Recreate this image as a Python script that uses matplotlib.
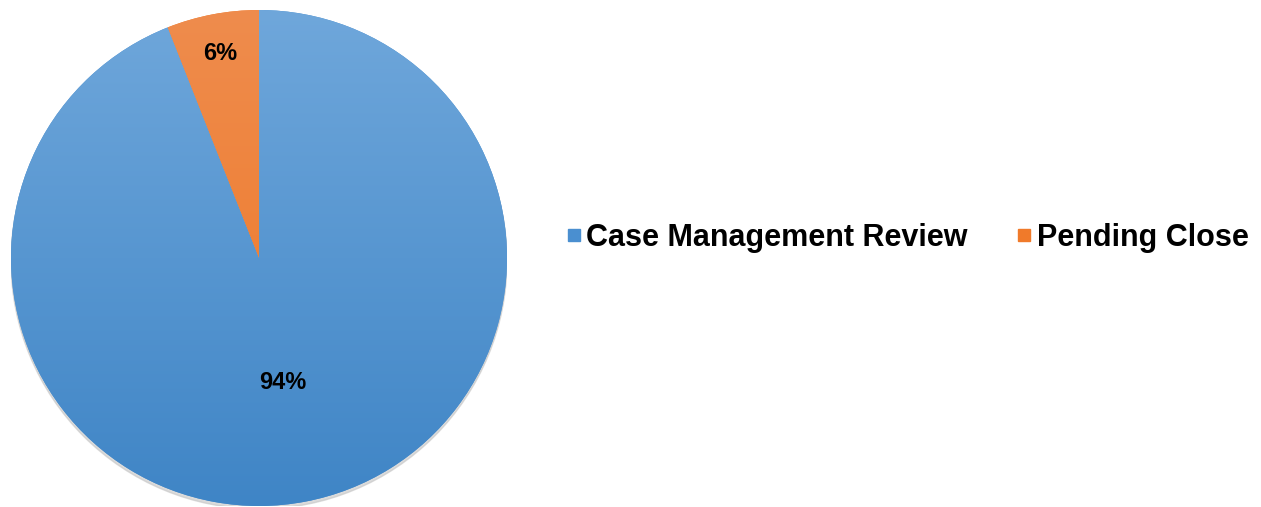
import matplotlib.pyplot as plt
import numpy as np
from matplotlib.colors import LinearSegmentedColormap
from matplotlib.lines import Line2D

plt.rcParams['font.family'] = ['Liberation Sans', 'DejaVu Sans']

labels = ['Case Management Review', 'Pending Close']
values = [94, 6]
pct_text = ['94%', '6%']
# gradient top -> bottom for each slice
grad_colors = [('#6fa7db', '#3f85c6'), ('#ef8c4d', '#ee7623')]
legend_colors = ['#4a8fd0', '#f07a2a']
label_r = [0.51, 0.84]

fig = plt.figure(figsize=(12.61, 5.07), dpi=100)
ax = fig.add_axes([11 / 1261, 1 / 507, 496 / 1261, 496 / 507])

wedges, _ = ax.pie(values, startangle=90, counterclock=False, radius=1,
                   colors=legend_colors, wedgeprops=dict(linewidth=0))
ax.set_xlim(-1, 1)
ax.set_ylim(-1, 1)
ax.set_aspect('equal')

# faint shadow under the pie
ax.add_patch(plt.Circle((0.0, -0.012), 1.0, color='#c4c4c4', zorder=0, alpha=0.6))

grad = np.linspace(0, 1, 256).reshape(-1, 1)
for w, (c1, c2) in zip(wedges, grad_colors):
    cmap = LinearSegmentedColormap.from_list('g', [c1, c2])
    im = ax.imshow(grad, cmap=cmap, extent=(-1, 1, -1, 1), origin='upper',
                   aspect='auto', zorder=2)
    im.set_clip_path(w)

for w, t, r in zip(wedges, pct_text, label_r):
    ang = np.deg2rad((w.theta1 + w.theta2) / 2)
    ax.text(r * np.cos(ang), r * np.sin(ang), t, ha='center', va='center',
            fontsize=17, fontweight='bold', color='black', zorder=3)

ax.axis('off')

handles = [Line2D([0], [0], marker='s', linestyle='none', markersize=9,
                  markerfacecolor=c, markeredgecolor=c) for c in legend_colors]
fig.legend(handles, labels, loc='center', bbox_to_anchor=(906 / 1261, 1 - 238 / 507),
           ncol=2, frameon=False, prop=dict(size=22, weight='bold'),
           handletextpad=0.05, columnspacing=1.5, handlelength=0.7)

fig.savefig('out.png', dpi=100)
